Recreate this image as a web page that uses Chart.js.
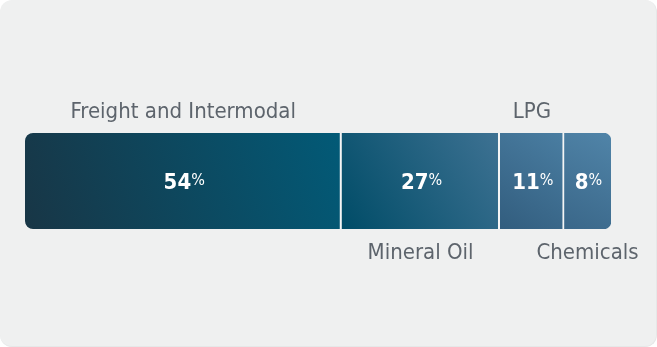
<!DOCTYPE html>
<html lang="en">
<head>
  <meta charset="UTF-8" />
  <title>Segments</title>
  <script src="https://cdn.jsdelivr.net/npm/chart.js"></script>
  <style>
    html, body {
      margin: 0;
      padding: 0;
      background: #ffffff;
    }
    .card {
      width: 656px;
      height: 346px;
      background: #eff0f0;
      border-radius: 12px;
      border-right: 1px solid #e6e8e8;
      border-bottom: 1px solid #e6e8e8;
      position: relative;
    }
    .card canvas {
      position: absolute;
      left: 0;
      top: 0;
    }
  </style>
</head>
<body>
  <div class="card">
    <canvas id="segChart" width="657" height="347"></canvas>
  </div>

  <script>
    const categories = ["Freight and Intermodal", "Mineral Oil", "LPG", "Chemicals"];
    const shares = [54, 27, 11, 8];
    // where the name sits: above or below the bar
    const labelSide = ["top", "bottom", "top", "bottom"];
    // gradient pairs: bottom-left -> top-right
    const segColors = [
      ["#183646", "#025a77"],
      ["#004c67", "#3e7293"],
      ["#325d7e", "#4a7ea2"],
      ["#3a6789", "#5084a8"]
    ];

    const cumStart = shares.map((v, i) => shares.slice(0, i).reduce((a, b) => a + b, 0));

    function segGradient(ctx, i) {
      const chart = ctx.chart;
      const area = chart.chartArea;
      if (!area) return segColors[i][1];
      const x = chart.scales.x;
      const x0 = x.getPixelForValue(cumStart[i]);
      const x1 = x.getPixelForValue(cumStart[i] + shares[i]);
      const g = chart.ctx.createLinearGradient(x0, area.bottom, x1, area.top);
      g.addColorStop(0, segColors[i][0]);
      g.addColorStop(1, segColors[i][1]);
      return g;
    }

    const last = shares.length - 1;
    const datasets = shares.map((v, i) => ({
      label: categories[i],
      data: [v],
      backgroundColor: ctx => segGradient(ctx, i),
      borderColor: "#f4f5f5",
      borderWidth: i < last ? { right: 2, left: 0, top: 0, bottom: 0 } : 0,
      borderSkipped: false,
      borderRadius: i === 0 ? { topLeft: 8, bottomLeft: 8, topRight: 0, bottomRight: 0 }
        : i === last ? { topLeft: 0, bottomLeft: 0, topRight: 8, bottomRight: 8 } : 0,
      barPercentage: 1,
      categoryPercentage: 1
    }));

    const labelPlugin = {
      id: "segLabels",
      afterDatasetsDraw(chart) {
        const c = chart.ctx;
        c.save();
        chart.data.datasets.forEach((ds, i) => {
          const bar = chart.getDatasetMeta(i).data[0];
          const left = Math.min(bar.x, bar.base);
          const right = Math.max(bar.x, bar.base);
          const cx = (left + right) / 2;
          const top = bar.y - bar.height / 2;
          const bottom = bar.y + bar.height / 2;

          // percent label inside
          const num = String(ds.data[0]);
          const numFont = "bold 22px 'DejaVu Sans Condensed', 'DejaVu Sans'";
          const pctFont = "16px 'DejaVu Sans Condensed', 'DejaVu Sans'";
          c.fillStyle = "#ffffff";
          c.textBaseline = "alphabetic";
          c.font = numFont;
          const wNum = c.measureText(num).width;
          c.font = pctFont;
          const wPct = c.measureText("%").width;
          const startX = cx - (wNum + wPct) / 2 + 1;
          c.textAlign = "left";
          c.font = numFont;
          c.fillText(num, startX, bar.y + 8);
          c.font = pctFont;
          c.fillText("%", startX + wNum, bar.y + 4);

          // category name
          c.font = "22px 'DejaVu Sans Condensed', 'DejaVu Sans'";
          c.fillStyle = "#5d646c";
          c.textAlign = "center";
          if (labelSide[i] === "top") {
            c.fillText(categories[i], cx, top - 15);
          } else {
            c.fillText(categories[i], cx, bottom + 30);
          }
        });
        c.restore();
      }
    };

    new Chart(document.getElementById("segChart"), {
      type: "bar",
      data: { labels: [""], datasets },
      options: {
        indexAxis: "y",
        responsive: false,
        animation: false,
        layout: { padding: { left: 25, right: 46, top: 133, bottom: 118 } },
        scales: {
          x: { stacked: true, min: 0, max: 100, display: false },
          y: { stacked: true, display: false }
        },
        plugins: {
          legend: { display: false },
          tooltip: { enabled: false }
        }
      },
      plugins: [labelPlugin]
    });
  </script>
</body>
</html>
